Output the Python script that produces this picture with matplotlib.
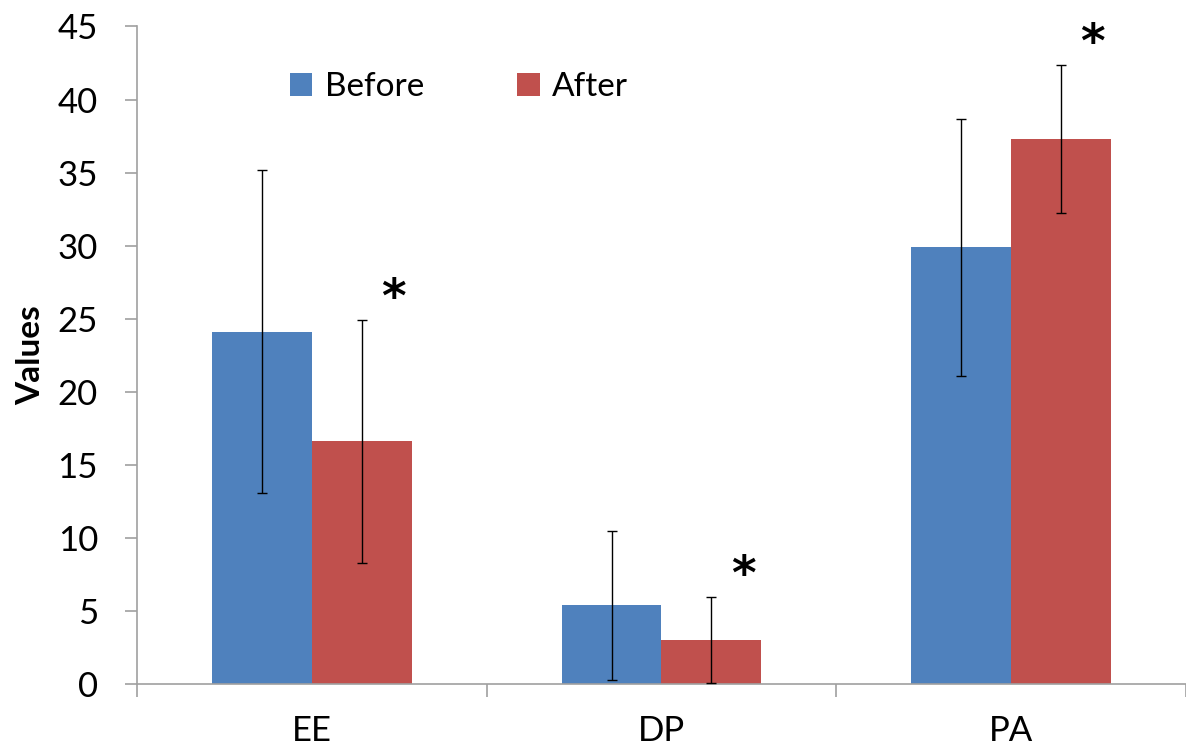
import numpy as np
import matplotlib
matplotlib.use('Agg')
import matplotlib.pyplot as plt

plt.rcParams['font.family'] = ['Lato', 'DejaVu Sans']

categories = ['EE', 'DP', 'PA']
before = [24.1, 5.4, 29.9]
before_err = [11.05, 5.1, 8.8]
after = [16.6, 3.0, 37.3]
after_err = [8.3, 2.95, 5.05]
significant = [True, True, True]   # asterisk over the "after" bar

blue = '#4F81BD'
red = '#C0504D'
grey = '#A0A0A0'

x = np.arange(len(categories))
w = 0.2857

fig = plt.figure(figsize=(11.86, 7.52), dpi=100)
ax = fig.add_axes([0.1155, 0.0904, 0.8845, 0.8744])

ax.bar(x - w/2, before, w, color=blue, label='Before', zorder=2)
ax.bar(x + w/2, after, w, color=red, label='After', zorder=2)
ax.errorbar(x - w/2, before, yerr=before_err, fmt='none', ecolor='black',
            elinewidth=1.0, capsize=3.5, capthick=1.0, zorder=3)
ax.errorbar(x + w/2, after, yerr=after_err, fmt='none', ecolor='black',
            elinewidth=1.0, capsize=3.5, capthick=1.0, zorder=3)

for i in range(len(categories)):
    if significant[i]:
        ax.text(x[i] + w/2 + 0.09, after[i] + after_err[i] + 1.4, '*',
                ha='center', va='center', fontsize=34, fontweight='bold',
                family=['DejaVu Sans'])

ax.set_xlim(-0.5, len(categories) - 0.5)
ax.set_ylim(0, 45)
ax.set_yticks(np.arange(0, 46, 5))
ax.set_xticks(x)
ax.set_xticklabels(categories)
ax.set_xticks(np.arange(-0.5, len(categories), 1.0), minor=True)

for s in ['top', 'right']:
    ax.spines[s].set_visible(False)
for s in ['left', 'bottom']:
    ax.spines[s].set_color(grey)
    ax.spines[s].set_linewidth(1.2)

ax.tick_params(axis='y', direction='out', length=9, width=1.2, color=grey,
               labelsize=25, pad=19)
ax.tick_params(axis='x', which='major', length=0, labelsize=25, pad=22)
ax.tick_params(axis='x', which='minor', direction='out', length=9, width=1.2,
               color=grey)

ax.set_ylabel('Values', fontsize=24, fontweight='bold', labelpad=9)

ax.legend(loc='center', bbox_to_anchor=(0.307, 0.908), ncol=2, frameon=False,
          fontsize=24, handlelength=0.67, handleheight=0.67,
          handletextpad=0.37, columnspacing=2.8)

fig.savefig('out.png', dpi=100)
